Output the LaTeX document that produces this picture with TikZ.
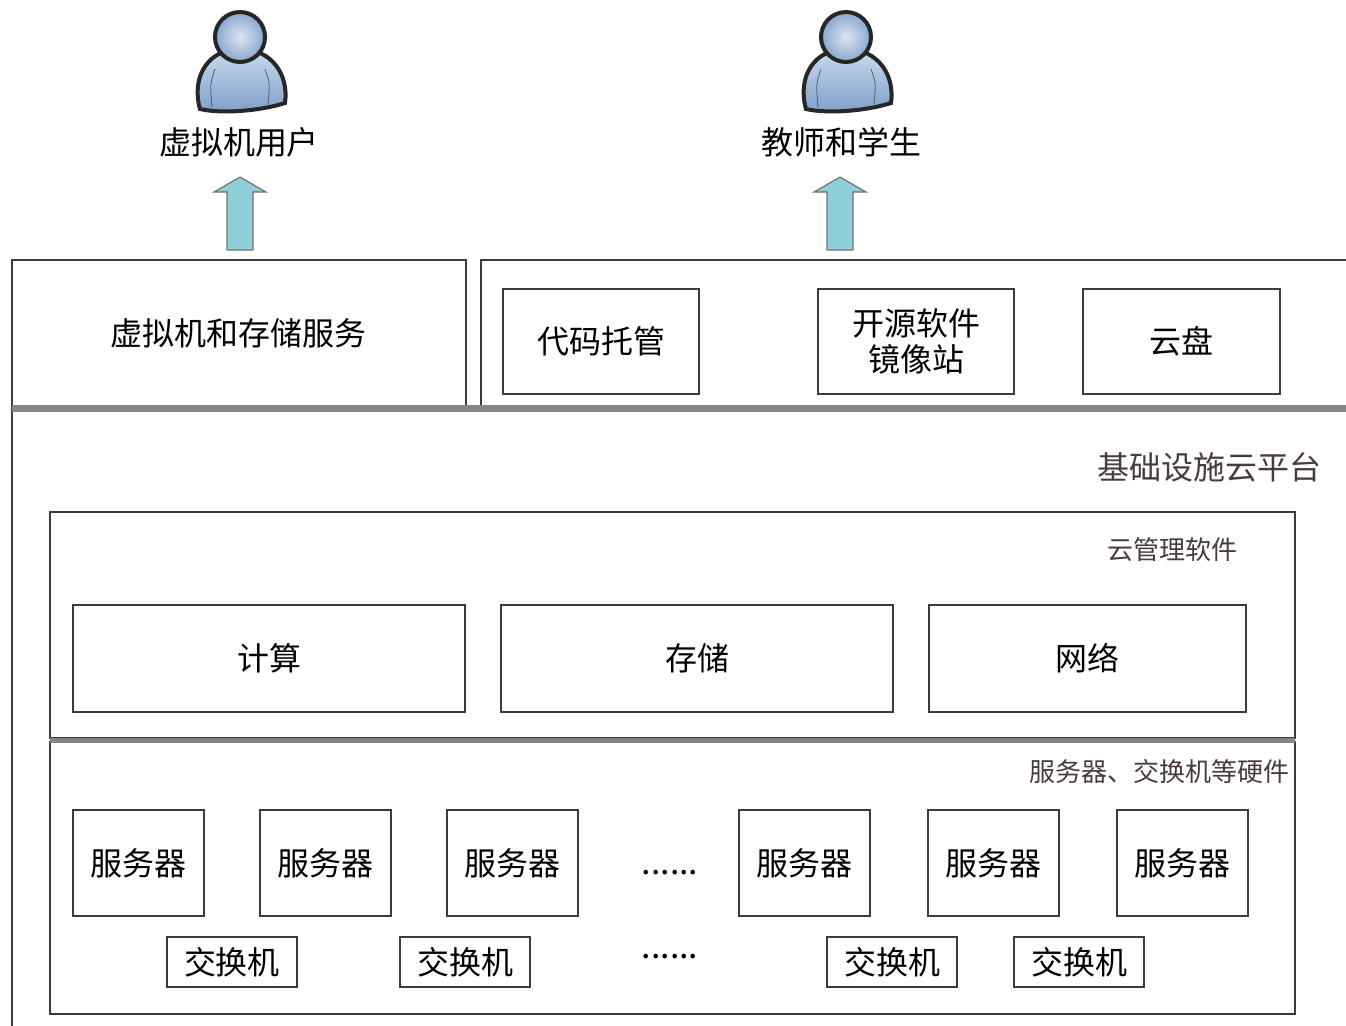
\documentclass[tikz,border=0pt]{standalone}
\usepackage{fontspec}
\setmainfont{Noto Sans CJK SC}
\usetikzlibrary{positioning}
\definecolor{boxline}{HTML}{3C3C3C}
\definecolor{bandgray}{HTML}{858585}
\definecolor{tagbrown}{HTML}{4A3B3B}
\definecolor{arrowteal}{HTML}{8ECFD9}
\definecolor{userlight}{HTML}{CBDBEE}
\definecolor{userdark}{HTML}{7E9DC8}
\tikzset{%
  cell/.style 2 args={draw=boxline, line width=1pt, minimum width=#1,
    minimum height=#2, inner sep=0pt, align=center,
    font=\fontsize{16}{18}\selectfont},
  tag/.style={text=tagbrown, anchor=east, inner sep=0pt},
  band/.style={draw=bandgray, line width=3.5pt},
  blockarrow/.style={draw=black!55, line width=0.6pt, fill=arrowteal},
  user/.pic={
    \draw[line width=2pt, draw=black!85, top color=userlight, bottom color=userdark]
      (-40,72) .. controls (-49,40) and (-32,12) .. (0,12)
      .. controls (32,12) and (49,38) .. (45,66)
      .. controls (20,74) and (-18,77) .. (-40,72) -- cycle;
    \draw[userdark!60!black, line width=0.4pt] (-25,32) .. controls (-30,47) .. (-28,70);
    \draw[userdark!60!black, line width=0.4pt] (25,32) .. controls (30,46) .. (28,67);
    \draw[line width=2pt, draw=black!85, inner color=userlight!70!white,
      outer color=userdark!85!userlight] (0,0) circle[radius=12.5pt];
  }
}
\begin{document}
\begin{tikzpicture}[x=0.5pt, y=-0.5pt]
\useasboundingbox (0,0) rectangle (1346,1025);
\clip (0,0) rectangle (1346,1025);
% users on top
\pic at (240,37) {user};
\pic at (846,37) {user};
\node[font=\fontsize{16}{18}\selectfont] (vmuser) at (239,142) {虚拟机用户};
\node[font=\fontsize{16}{18}\selectfont] (teacher) at (841,142) {教师和学生};
\coordinate (vmfoot) at (240,250);
\coordinate (teacherfoot) at (840,250);
\draw[blockarrow] (vmfoot) ++(-13,0) -- ++(0,-58) -- ++(-13,0) -- ++(26,-15) -- ++(26,15) -- ++(-13,0) -- ++(0,58) -- cycle;
\draw[blockarrow] (teacherfoot) ++(-13,0) -- ++(0,-58) -- ++(-13,0) -- ++(26,-15) -- ++(26,15) -- ++(-13,0) -- ++(0,58) -- cycle;
% platform frame
\node[cell={674pt}{314pt}] (platform) at (686,721) {};
\node[tag, font=\fontsize{16}{18}\selectfont] (platformtag) at (1322,467) {基础设施云平台};
% services
\node[cell={227pt}{73.5pt}] (vmsvc) at (239,333.5) {虚拟机和存储服务};
\node[cell={439.5pt}{73.5pt}] (webpanel) at (920.5,333.5) {};
\node[cell={98pt}{52.5pt}] (code) at (601,341.5) {代码托管};
\node[cell={98pt}{52.5pt}] (mirror) at (916,341.5) {开源软件\\镜像站};
\node[cell={98.5pt}{52.5pt}] (disk) at (1181.5,341.5) {云盘};
\draw[band] (12,408.5) -- (1346,408.5);
% cloud management
\node[cell={622.5pt}{113pt}] (mgmt) at (672.5,625) {};
\node[tag, font=\fontsize{13}{15}\selectfont] (mgmttag) at (1238,550) {云管理软件};
\node[cell={196pt}{53.5pt}] (compute) at (269,658.5) {计算};
\node[cell={196pt}{53.5pt}] (storage) at (697,658.5) {存储};
\node[cell={158.5pt}{53.5pt}] (network) at (1087.5,658.5) {网络};
% hardware
\node[cell={622.5pt}{136pt}] (hw) at (672.5,878) {};
\draw[band, line width=2.5pt] (50,740) -- (1295,740);
\node[tag, font=\fontsize{13}{15}\selectfont] (hwtag) at (1290,772) {服务器、交换机等硬件};
\foreach \x [count=\i] in {138.5,325.5,512.5,804.5,993,1182}
  \node[cell={65.5pt}{53pt}] (server\i) at (\x,863) {服务器};
\foreach \x [count=\i] in {232,465,892,1079}
  \node[cell={65pt}{25pt}] (switch\i) at (\x,962) {交换机};
\node[font=\fontsize{17}{18}\selectfont, inner sep=0pt] (serverdots) at (670,873) {......};
\node[font=\fontsize{17}{18}\selectfont, inner sep=0pt] (switchdots) at (670,957) {......};
\end{tikzpicture}
\end{document}
